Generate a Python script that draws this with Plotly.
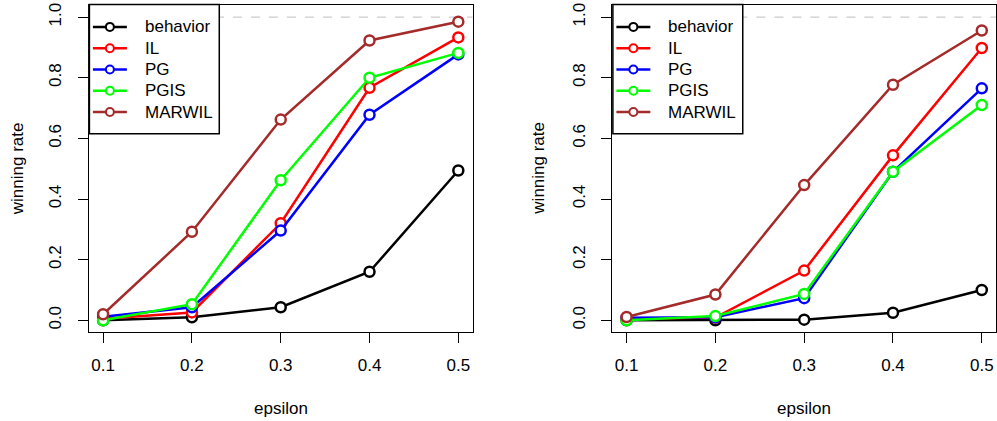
import plotly.graph_objects as go

eps = [0.1, 0.2, 0.3, 0.4, 0.5]
series_names = ["behavior", "IL", "PG", "PGIS", "MARWIL"]
series_colors = ["#000000", "#FF0000", "#0000FF", "#00FF00", "#A52A2A"]

# left panel
behavior_a = [0.0, 0.01, 0.043, 0.16, 0.494]
il_a = [0.005, 0.026, 0.32, 0.767, 0.933]
pg_a = [0.012, 0.043, 0.296, 0.678, 0.877]
pgis_a = [0.0, 0.053, 0.462, 0.80, 0.882]
marwil_a = [0.02, 0.292, 0.662, 0.923, 0.985]

# right panel
behavior_b = [0.0, 0.0, 0.002, 0.025, 0.10]
il_b = [0.005, 0.009, 0.164, 0.544, 0.898]
pg_b = [0.008, 0.01, 0.073, 0.49, 0.765]
pgis_b = [0.0, 0.014, 0.087, 0.49, 0.71]
marwil_b = [0.011, 0.085, 0.446, 0.777, 0.956]

y_ticks = [0.0, 0.2, 0.4, 0.6, 0.8, 1.0]

FONT = "Liberation Sans, Arial, sans-serif"
FS = 17
W, H = 997, 421


def px(x):
    return x / W


def py(y):
    return 1 - y / H


left = [behavior_a, il_a, pg_a, pgis_a, marwil_a]
right = [behavior_b, il_b, pg_b, pgis_b, marwil_b]

fig = go.Figure()
for data, xa, ya in [(left, "x", "y"), (right, "x2", "y2")]:
    for name, col, vals in zip(series_names, series_colors, data):
        fig.add_trace(go.Scatter(
            x=eps, y=vals, mode="lines+markers", name=name,
            xaxis=xa, yaxis=ya, showlegend=False,
            line=dict(color=col, width=2.5),
            marker=dict(symbol="circle", size=10, color="white",
                        line=dict(color=col, width=2.5)),
        ))

ytop, ybot = 3, 332
dom_y = [py(ybot), py(ytop)]
panels_left = [89, 613]
panel_w = 384
dom_x1 = [px(89), px(89 + panel_w)]
dom_x2 = [px(613), px(613 + panel_w)]

axis_common = dict(showline=True, mirror=True, linecolor="black", linewidth=1,
                   ticks="outside", ticklen=10, tickwidth=1, tickcolor="black",
                   showgrid=False, zeroline=False,
                   tickfont=dict(family=FONT, size=FS, color="black"))

xr = [0.084, 0.516]
yr = [-0.04, 1.04]

fig.update_layout(
    width=W, height=H, margin=dict(l=0, r=0, t=0, b=0),
    paper_bgcolor="white", plot_bgcolor="white",
    font=dict(family=FONT, size=FS, color="black"),
    showlegend=False,
    xaxis=dict(domain=dom_x1, range=xr, tickvals=eps, tickformat=".1f",
               ticklabelstandoff=7, anchor="y", **axis_common),
    yaxis=dict(domain=dom_y, range=yr, tickvals=y_ticks, tickformat=".1f",
               tickangle=-90, ticklabelstandoff=10, anchor="x", **axis_common),
    xaxis2=dict(domain=dom_x2, range=xr, tickvals=eps, tickformat=".1f",
                ticklabelstandoff=7, anchor="y2", **axis_common),
    yaxis2=dict(domain=dom_y, range=yr, tickvals=y_ticks, tickformat=".1f",
                tickangle=-90, ticklabelstandoff=10, anchor="x2", **axis_common),
)

for xref, yref in [("x", "y"), ("x2", "y2")]:
    fig.add_shape(type="line", xref=xref + " domain", yref=yref, x0=0, x1=1, y0=1, y1=1,
                  line=dict(color="#BEBEBE", width=1, dash="dash"), layer="below")

# legends (R-style boxed legends)
row0, row_step = 25, 21.4
for bx in panels_left:
    fig.add_shape(type="rect", xref="paper", yref="paper",
                  x0=px(bx), x1=px(bx + 130), y0=py(132), y1=py(3),
                  line=dict(width=0), fillcolor="white", layer="above")
    fig.add_shape(type="rect", xref="paper", yref="paper",
                  x0=px(bx + 0.5), x1=px(bx + 130.5), y0=py(132.5), y1=py(2.5),
                  line=dict(color="#000000", width=1.5), fillcolor="rgba(0,0,0,0)", layer="above")
    for i, (name, col) in enumerate(zip(series_names, series_colors)):
        yy = row0 + i * row_step
        fig.add_shape(type="line", xref="paper", yref="paper",
                      x0=px(bx + 4), x1=px(bx + 38), y0=py(yy), y1=py(yy),
                      line=dict(color=col, width=2.5), layer="above")
        fig.add_shape(type="circle", xref="paper", yref="paper",
                      xsizemode="pixel", ysizemode="pixel",
                      xanchor=px(bx + 21), yanchor=py(yy),
                      x0=-4, x1=4, y0=-4, y1=4,
                      line=dict(color=col, width=2), fillcolor="white", layer="above")
        fig.add_annotation(text=name, x=px(bx + 54), y=py(yy), xref="paper", yref="paper",
                           xanchor="left", yanchor="middle", showarrow=False,
                           font=dict(family=FONT, size=FS, color="black"))

# axis titles
for cx, ty in [((dom_x1[0] + dom_x1[1]) / 2, px(17)), ((dom_x2[0] + dom_x2[1]) / 2, px(539))]:
    fig.add_annotation(text="epsilon", x=cx, y=py(408), xref="paper", yref="paper",
                       xanchor="center", yanchor="middle",
                       showarrow=False, font=dict(family=FONT, size=FS))
    fig.add_annotation(text="winning rate", x=ty, y=py(167), xref="paper", yref="paper",
                       xanchor="center", yanchor="middle",
                       showarrow=False, textangle=-90, font=dict(family=FONT, size=FS))

fig.write_html("out.html", config={"displayModeBar": False},
               post_script="document.body.style.margin='0px';")
